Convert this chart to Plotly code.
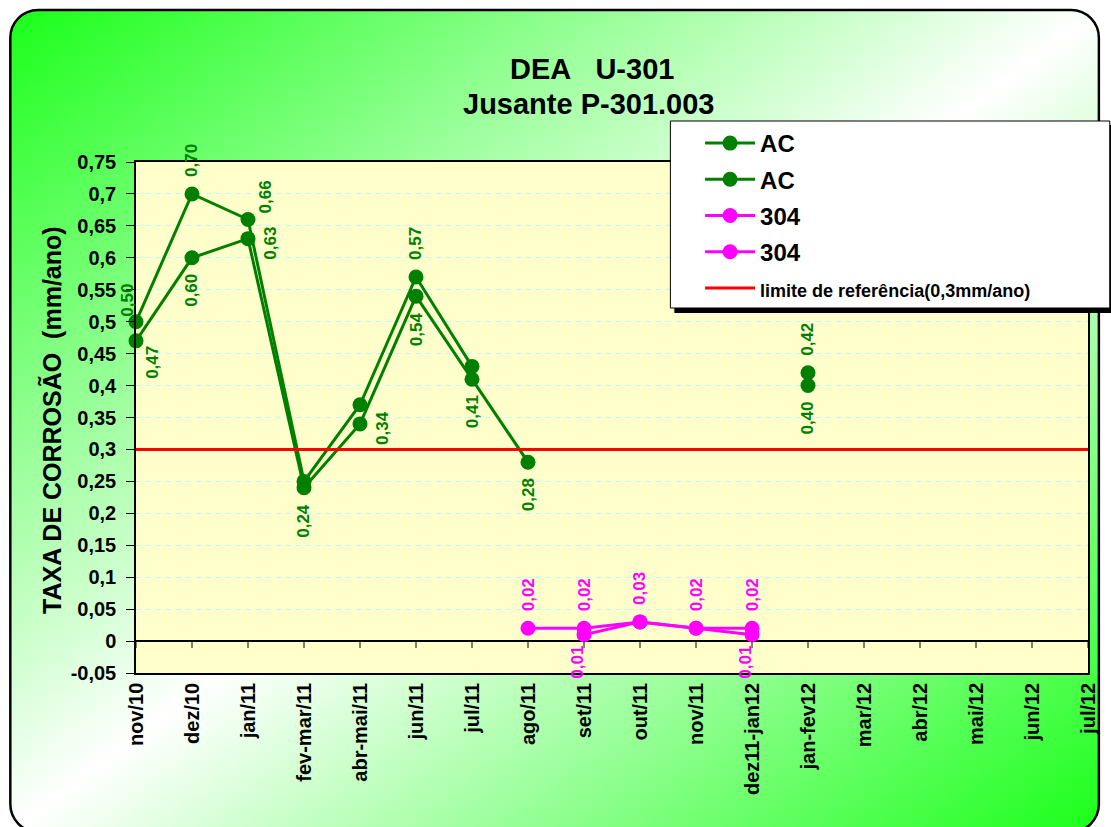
import base64
import plotly.graph_objects as go

# ---- data -------------------------------------------------------------
categories = ["nov/10", "dez/10", "jan/11", "fev-mar/11", "abr-mai/11", "jun/11",
              "jul/11", "ago/11", "set/11", "out/11", "nov/11", "dez11-jan12",
              "jan-fev12", "mar/12", "abr/12", "mai/12", "jun/12", "jul/12"]

ac_a = [0.50, 0.70, 0.66, 0.25, 0.37, 0.57, 0.43, None, None, None, None, None,
        0.42, None, None, None, None, None]
ac_b = [0.47, 0.60, 0.63, 0.24, 0.34, 0.54, 0.41, 0.28, None, None, None, None,
        0.40, None, None, None, None, None]
ss304_a = [None, None, None, None, None, None, None, 0.02, 0.02, 0.03, 0.02, 0.02,
           None, None, None, None, None, None]
ss304_b = [None, None, None, None, None, None, None, None, 0.01, 0.03, 0.02, 0.01,
           None, None, None, None, None, None]
limit_ref = [0.3] * len(categories)

y_ticks = [-0.05, 0, 0.05, 0.1, 0.15, 0.2, 0.25, 0.3, 0.35, 0.4, 0.45, 0.5,
           0.55, 0.6, 0.65, 0.7, 0.75]
y_tick_labels = ["-0,05", "0", "0,05", "0,1", "0,15", "0,2", "0,25", "0,3", "0,35",
                 "0,4", "0,45", "0,5", "0,55", "0,6", "0,65", "0,7", "0,75"]

GREEN = "#007f00"
MAGENTA = "#ff00ff"
FONT = "Arial, Liberation Sans, sans-serif"

# ---- geometry of the plot area (px) -----------------------------------
W, H = 1111, 827
ML, MR, MT, MB = 136, 13, 162, 154
PW, PH = W - ML - MR, H - MT - MB


def px_x(px):
    return (px - ML) / PW


def px_y(py):
    return (H - MB - py) / PH


fig = go.Figure()

series = [
    ("ac_a", "AC", ac_a, GREEN, "above"),
    ("ac_b", "AC", ac_b, GREEN, "below"),
    ("ss304_a", "304", ss304_a, MAGENTA, "above"),
    ("ss304_b", "304", ss304_b, MAGENTA, "below"),
]

for key, name, vals, col, _ in series:
    fig.add_trace(go.Scatter(
        x=categories, y=vals, name=name, mode="lines+markers",
        line=dict(color=col, width=3), marker=dict(color=col, size=15),
        connectgaps=False, cliponaxis=False, legendgroup=key,
    ))

fig.add_trace(go.Scatter(
    x=categories, y=limit_ref, mode="lines",
    name="<span style='font-size:18px'>limite de referência(0,3mm/ano)</span>",
    line=dict(color="#ff0000", width=3), legendgroup="limit",
))

# value labels (vertical text), hidden where they would collide
hidden = {
    "ac_a": {"fev-mar/11", "abr-mai/11", "jul/11"},
    "ss304_b": {"out/11", "nov/11"},
}
nudges = {  # (dx, dy) in px, dy downwards
    ("ac_a", "nov/10"): (-8, -21),
    ("ac_b", "nov/10"): (17, 22),
    ("ac_a", "jan/11"): (17, -22),
    ("ac_b", "jan/11"): (23, 5),
    ("ac_b", "abr-mai/11"): (23, 4),
    ("ss304_b", "set/11"): (-6, 28),
    ("ss304_b", "dez11-jan12"): (-6, 28),
}
annotations = []
for key, name, vals, col, side in series:
    for cat, v in zip(categories, vals):
        if v is None or cat in hidden.get(key, set()):
            continue
        dx, dy = nudges.get((key, cat), (0, -33 if side == "above" else 33))
        annotations.append(dict(
            x=cat, y=v, xref="x", yref="y", text=f"{v:.2f}".replace(".", ","),
            textangle=-90, showarrow=False, xshift=dx, yshift=-dy,
            xanchor="center", yanchor="middle",
            font=dict(family=FONT, size=17, color=col, weight="bold"),
        ))

# titles
annotations.append(dict(
    x=px_x(597), y=px_y(69), xref="paper", yref="paper", showarrow=False,
    xanchor="center", yanchor="middle",
    text="DEA\u00a0\u00a0\u00a0U-301", font=dict(family=FONT, size=29, color="black", weight="bold"),
))
annotations.append(dict(
    x=px_x(593), y=px_y(104), xref="paper", yref="paper", showarrow=False,
    xanchor="center", yanchor="middle",
    text="Jusante P-301.003", font=dict(family=FONT, size=29, color="black", weight="bold"),
))
annotations.append(dict(
    x=px_x(50), y=px_y(420), xref="paper", yref="paper", showarrow=False, textangle=-90,
    xanchor="center", yanchor="middle",
    text="TAXA DE CORROSÃO\u00a0\u00a0(mm/ano)",
    font=dict(family=FONT, size=25, color="black", weight="bold"),
))

# background images: rounded gradient frame and the pale yellow plot area
frame_svg = (
    f'<svg xmlns="http://www.w3.org/2000/svg" width="{W}" height="{H}" '
    f'viewBox="0 0 {W} {H}" preserveAspectRatio="none">'
    '<defs><linearGradient id="g" x1="0" y1="0" x2="1" y2="1">'
    '<stop offset="0" stop-color="#1aff1a"/>'
    '<stop offset="0.5" stop-color="#ffffff"/>'
    '<stop offset="1" stop-color="#1aff1a"/></linearGradient></defs>'
    '<rect x="9" y="10" width="1100" height="822" rx="28" ry="28" '
    'fill="url(#g)" stroke="#000" stroke-width="2.5"/></svg>'
)
area_svg = (
    '<svg xmlns="http://www.w3.org/2000/svg" width="10" height="10" '
    'viewBox="0 0 10 10" preserveAspectRatio="none">'
    '<rect x="0" y="0" width="10" height="10" fill="#ffffcc"/></svg>'
)


def data_uri(svg):
    return "data:image/svg+xml;base64," + base64.b64encode(svg.encode()).decode()


images = [
    dict(source=data_uri(frame_svg), xref="paper", yref="paper",
         x=px_x(0), y=px_y(0), sizex=W / PW, sizey=H / PH,
         xanchor="left", yanchor="top", sizing="stretch", layer="below"),
    dict(source=data_uri(area_svg), xref="paper", yref="paper",
         x=0, y=1, sizex=1, sizey=1,
         xanchor="left", yanchor="top", sizing="stretch", layer="below"),
]

# category tick marks hanging from the zero line
shapes = []
for cat in categories:
    shapes.append(dict(type="line", xref="x", yref="y", x0=cat, x1=cat,
                       ysizemode="pixel", yanchor=0, y0=0, y1=-7,
                       line=dict(color="black", width=1)))

# legend box with drop shadow
shapes.append(dict(type="rect", xref="paper", yref="paper", layer="above",
                   x0=px_x(680), x1=px_x(1125), y0=px_y(313), y1=px_y(125),
                   fillcolor="black", line=dict(width=0)))
shapes.append(dict(type="rect", xref="paper", yref="paper", layer="above",
                   x0=px_x(676), x1=px_x(1120), y0=px_y(308), y1=px_y(121),
                   fillcolor="white", line=dict(color="black", width=1)))

fig.update_layout(
    width=W, height=H,
    margin=dict(l=ML, r=MR, t=MT, b=MB, pad=0),
    paper_bgcolor="white", plot_bgcolor="rgba(0,0,0,0)",
    font=dict(family=FONT, color="black"),
    showlegend=True,
    legend=dict(x=px_x(706), y=px_y(121), xanchor="left", yanchor="top",
                bgcolor="rgba(0,0,0,0)", borderwidth=0, tracegroupgap=2,
                itemwidth=50,
                font=dict(family=FONT, size=24, color="black", weight="bold")),
    images=images, shapes=shapes, annotations=annotations,
)

fig.update_xaxes(
    type="category", range=[0, len(categories) - 1],
    tickangle=-90, ticks="", showgrid=False,
    tickfont=dict(family=FONT, size=20, color="black", weight="bold"),
    showline=True, linecolor="black", linewidth=1.5, mirror=True,
)
fig.update_yaxes(
    range=[-0.05, 0.75], tickvals=y_ticks, ticktext=y_tick_labels,
    ticks="outside", ticklen=8, tickcolor="black", ticklabelstandoff=6,
    tickfont=dict(family=FONT, size=20, color="black", weight="bold"),
    showgrid=True, gridcolor="#c4f6ff", gridwidth=1, griddash="5px,5px",
    zeroline=True, zerolinecolor="black", zerolinewidth=1.5,
    showline=True, linecolor="black", linewidth=1.5, mirror=True,
)

fig.write_html("out.html")
